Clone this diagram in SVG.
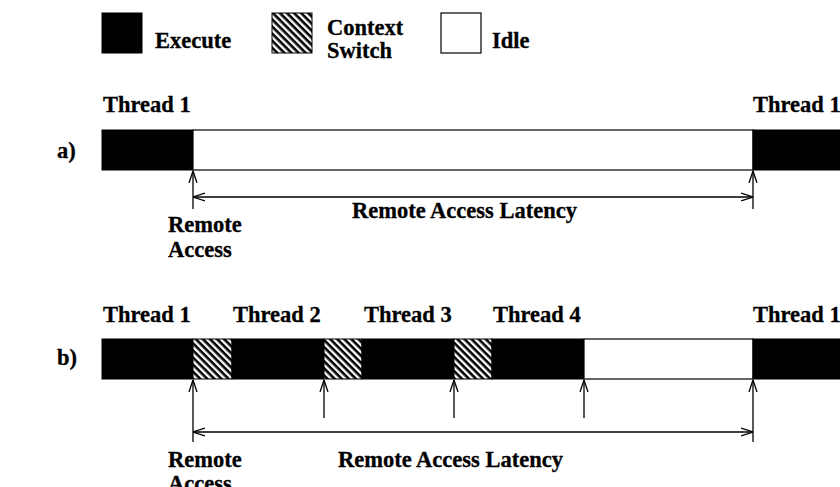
<svg xmlns="http://www.w3.org/2000/svg" width="840" height="487" viewBox="0 0 840 487">
  <style>
    text { font-family: "Liberation Serif", "Times New Roman", serif; font-weight: bold; font-size: 22.5px; fill: #000; stroke: #000; stroke-width: 0.3; }
    .exec { fill: #000; stroke: #000; stroke-width: 1; }
    .idle { fill: #fff; stroke: #000; stroke-width: 1.2; }
    .cs { fill: url(#hatch); stroke: #000; stroke-width: 1; }
    .conn line { stroke: #000; stroke-width: 1.3; fill: none; }
  </style>
  <defs>
    <!-- diagonal stripes for context-switch blocks -->
    <pattern id="hatch" patternUnits="userSpaceOnUse" width="5" height="5" patternTransform="rotate(45)">
      <rect width="5" height="5" fill="#fff"/>
      <rect width="5" height="2.6" fill="#000"/>
    </pattern>
    <!-- open V arrowhead -->
    <marker id="head" viewBox="0 0 12 10" refX="12" refY="5" markerWidth="12" markerHeight="10" markerUnits="userSpaceOnUse" orient="auto-start-reverse">
      <path d="M0,1 L12,5 L0,9" fill="none" stroke="#000" stroke-width="1.3"/>
    </marker>
  </defs>

  <!-- legend -->
  <g id="legend-execute">
    <rect class="exec" x="102" y="13" width="40" height="40"/>
    <text x="155" y="48">Execute</text>
  </g>
  <g id="legend-context-switch">
    <rect class="cs" x="272" y="13" width="40" height="40"/>
    <text x="327" y="35">Context</text>
    <text x="327" y="58">Switch</text>
  </g>
  <g id="legend-idle">
    <rect class="idle" x="441" y="13" width="40" height="40"/>
    <text x="492" y="48">Idle</text>
  </g>

  <!-- a) single thread -->
  <g id="row-a">
    <text x="57" y="158">a)</text>
    <text x="103" y="112">Thread 1</text>
    <text x="753" y="112">Thread 1</text>
    <rect class="exec" x="102" y="130" width="91" height="40"/>
    <rect class="idle" x="193" y="130" width="560" height="40"/>
    <rect class="exec" x="753" y="130" width="90" height="40"/>
    <text x="168" y="232">Remote</text>
    <text x="168" y="257">Access</text>
    <text x="352" y="218">Remote Access Latency</text>
  </g>

  <!-- b) multithreaded -->
  <g id="row-b">
    <text x="57" y="365">b)</text>
    <text x="103" y="322">Thread 1</text>
    <text x="233" y="322">Thread 2</text>
    <text x="364" y="322">Thread 3</text>
    <text x="493" y="322">Thread 4</text>
    <text x="753" y="322">Thread 1</text>
    <rect class="exec" x="102" y="339" width="91" height="40"/>
    <rect class="cs" x="193" y="339" width="39" height="40"/>
    <rect class="exec" x="232" y="339" width="92" height="40"/>
    <rect class="cs" x="324" y="339" width="38" height="40"/>
    <rect class="exec" x="362" y="339" width="92" height="40"/>
    <rect class="cs" x="454" y="339" width="38" height="40"/>
    <rect class="exec" x="492" y="339" width="92" height="40"/>
    <rect class="idle" x="584" y="339" width="169" height="40"/>
    <rect class="exec" x="753" y="339" width="90" height="40"/>
    <text x="168" y="467">Remote</text>
    <text x="168" y="491">Access</text>
    <text x="338" y="467">Remote Access Latency</text>
  </g>

  <!-- arrows -->
  <g id="connectors" class="conn">
    <line x1="193" y1="209" x2="193" y2="171" marker-end="url(#head)"/>
    <line x1="753" y1="209" x2="753" y2="171" marker-end="url(#head)"/>
    <line x1="193" y1="197" x2="753" y2="197" marker-start="url(#head)" marker-end="url(#head)"/>

    <line x1="193" y1="442" x2="193" y2="380" marker-end="url(#head)"/>
    <line x1="324" y1="418" x2="324" y2="380" marker-end="url(#head)"/>
    <line x1="454" y1="418" x2="454" y2="380" marker-end="url(#head)"/>
    <line x1="584" y1="418" x2="584" y2="380" marker-end="url(#head)"/>
    <line x1="753" y1="442" x2="753" y2="380" marker-end="url(#head)"/>
    <line x1="193" y1="432" x2="753" y2="432" marker-start="url(#head)" marker-end="url(#head)"/>
  </g>
</svg>
